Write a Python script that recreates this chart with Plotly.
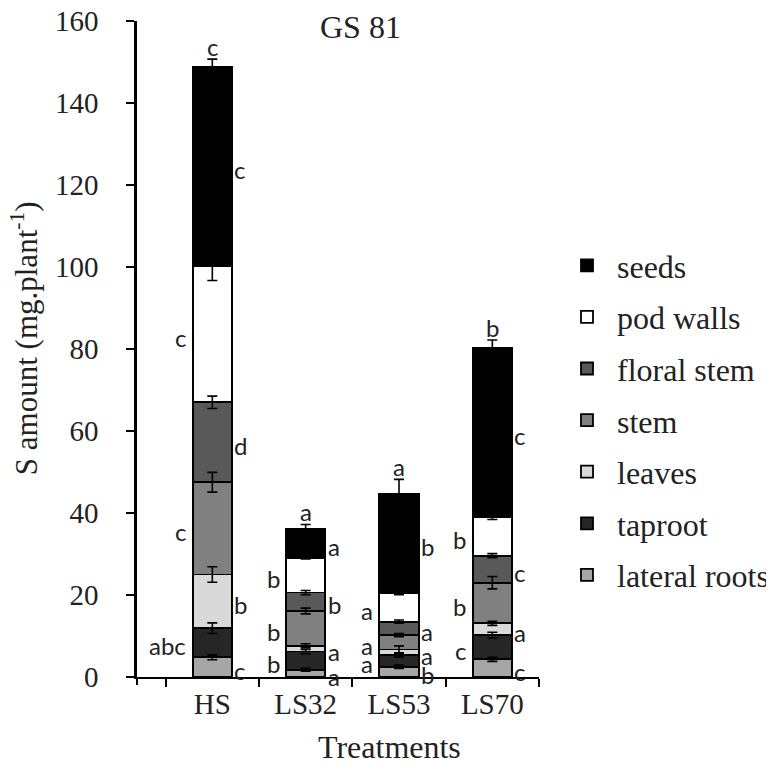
import numpy as np
import plotly.graph_objects as go

treatments = ["HS", "LS32", "LS53", "LS70"]
organs = ["lateral roots", "taproot", "leaves", "stem", "floral stem", "pod walls", "seeds"]
colors = ["#a6a6a6", "#262626", "#d9d9d9", "#808080", "#595959", "#ffffff", "#000000"]

lateral_roots = [4.8, 1.8, 2.5, 4.3]
taproot = [7.1, 4.4, 2.9, 5.9]
leaves = [13.1, 1.4, 1.3, 2.9]
stem = [22.5, 8.5, 3.5, 9.9]
floral_stem = [19.5, 4.5, 3.3, 6.6]
pod_walls = [33.1, 8.5, 6.9, 9.3]
seeds = [48.7, 7.1, 24.2, 41.3]

err_lateral_roots = [0.6, 0.4, 0.4, 0.5]
err_taproot = [1.3, 0.5, 0.5, 0.7]
err_leaves = [1.9, 0.5, 0.9, 0.5]
err_stem = [2.4, 0.7, 0.4, 1.5]
err_floral_stem = [1.5, 0.5, 0.4, 0.5]
err_pod_walls = [3.4, 0.3, 0.3, 0.5]
err_seeds = [1.9, 1.0, 3.6, 2.0]

let_lateral_roots = ["c", "a", "b", "c"]
let_taproot = ["abc", "b", "a", "c"]
let_leaves = ["b", "a", "a", "a"]
let_stem = ["c", "b", "a", "b"]
let_floral_stem = ["d", "b", "a", "c"]
let_pod_walls = ["c", "b", "a", "b"]
let_seeds = ["c", "a", "b", "c"]
let_total = ["c", "a", "a", "b"]

values = [lateral_roots, taproot, leaves, stem, floral_stem, pod_walls, seeds]
errors = [err_lateral_roots, err_taproot, err_leaves, err_stem, err_floral_stem, err_pod_walls, err_seeds]
letters = [let_lateral_roots, let_taproot, let_leaves, let_stem, let_floral_stem, let_pod_walls, let_seeds]
sides = ["right", "left", "right", "left", "right", "left", "right"]

SERIF = "Liberation Serif, Times New Roman, serif"
SANS = "Lato, sans-serif"
BAR_W = 0.42
TXT = "#222222"

# page has an 8px body margin: figure is sized to fit the 774x764 window
W, H = 766, 756

fig = go.Figure()
n = len(organs)
for i, org in enumerate(organs):
    fig.add_trace(go.Bar(
        x=treatments, y=values[i], name=org, width=BAR_W,
        marker=dict(color=colors[i], line=dict(color="black", width=1.8)),
        legendgroup=org, legendrank=n - i,
    ))

cum = np.cumsum(np.array(values), axis=0)
for i, org in enumerate(organs):
    fig.add_trace(go.Scatter(
        x=treatments, y=cum[i], mode="markers", marker=dict(opacity=0, size=1),
        error_y=dict(type="data", array=errors[i], color="black", thickness=1.6, width=5),
        showlegend=False, hoverinfo="skip",
    ))

annotations = []
for i in range(n):
    base = cum[i] - np.array(values[i])
    for j, t in enumerate(treatments):
        mid = (base[j] + cum[i][j]) / 2
        if sides[i] == "right":
            annotations.append(dict(x=t, y=mid, text=letters[i][j], showarrow=False,
                                    xanchor="left", yanchor="middle", xshift=20, yshift=-3,
                                    font=dict(family=SANS, size=24, color=TXT)))
        else:
            annotations.append(dict(x=t, y=mid, text=letters[i][j], showarrow=False,
                                    xanchor="right", yanchor="middle", xshift=-24, yshift=-3,
                                    font=dict(family=SANS, size=24, color=TXT)))
for j, t in enumerate(treatments):
    annotations.append(dict(x=t, y=cum[-1][j] + err_seeds[j], text=let_total[j], showarrow=False,
                            xanchor="center", yanchor="bottom", yshift=-4,
                            font=dict(family=SANS, size=24, color=TXT)))

annotations.append(dict(xref="paper", yref="paper", x=(360 - 137) / 402, y=(677 - 27) / 656.3,
                        text="GS 81", showarrow=False, xanchor="center", yanchor="middle",
                        font=dict(family=SERIF, size=32, color=TXT)))
annotations.append(dict(xref="paper", yref="paper", x=(389 - 137) / 402, y=-(747 - 677) / 656.3,
                        text="Treatments", showarrow=False, xanchor="center", yanchor="middle",
                        font=dict(family=SERIF, size=32, color=TXT)))
annotations.append(dict(xref="paper", yref="paper", x=(24 - 137) / 402, y=(677 - 338) / 656.3,
                        text="S amount (mg.plant<sup>-1</sup>)", textangle=-90, showarrow=False,
                        xanchor="center", yanchor="middle",
                        font=dict(family=SERIF, size=31, color=TXT)))

fig.update_layout(
    width=W, height=H,
    margin=dict(l=129, r=235, t=13, b=87, autoexpand=False),
    barmode="stack",
    plot_bgcolor="white", paper_bgcolor="white",
    annotations=annotations,
    showlegend=True,
    legend=dict(traceorder="grouped", tracegroupgap=7, itemwidth=50,
                font=dict(family=SERIF, size=32, color=TXT),
                xref="container", yref="container", x=549 / W, y=1 - 230 / H,
                xanchor="left", yanchor="top", bgcolor="rgba(0,0,0,0)"),
    shapes=[dict(type="line", xref="paper", yref="paper", x0=0, x1=0,
                 ysizemode="pixel", yanchor=0, y0=0, y1=-8,
                 line=dict(color="black", width=2))],
)
fig.update_xaxes(type="category", range=[-0.807, 3.5], tickson="boundaries",
                 ticks="outside", ticklen=8, tickwidth=2, tickcolor="black",
                 showline=True, linecolor="black", linewidth=2, showgrid=False, automargin=False,
                 tickfont=dict(family=SERIF, size=29, color=TXT), ticklabelstandoff=0)
fig.update_yaxes(range=[0, 160], dtick=20, ticks="outside", ticklen=8, tickwidth=2,
                 tickcolor="black", showline=True, linecolor="black", linewidth=2.5,
                 showgrid=False, zeroline=False, automargin=False, ticklabeloverflow="allow",
                 tickfont=dict(family=SERIF, size=29, color=TXT), ticklabelstandoff=22)

fig.write_html("out.html")
